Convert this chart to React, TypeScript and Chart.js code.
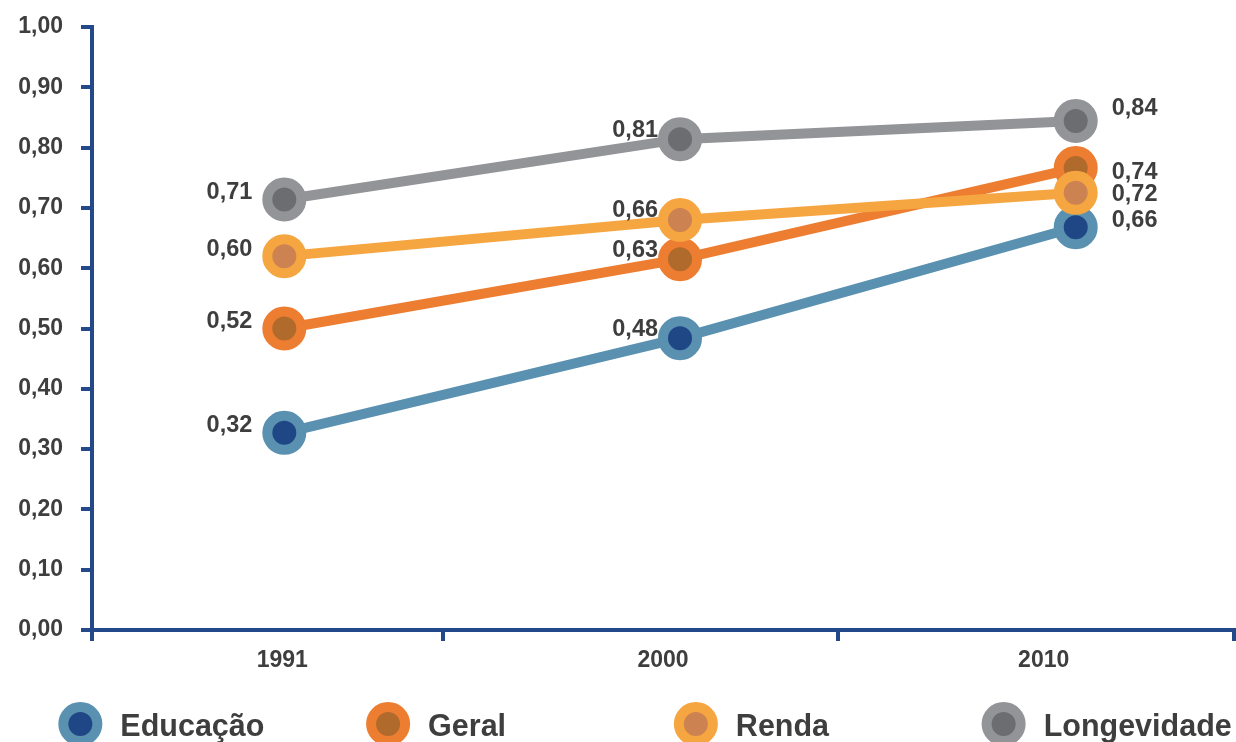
import React, { useEffect, useRef } from "react";
import { Chart, registerables } from "chart.js";

Chart.register(...registerables);

// ---- data ----
const years = ["1991", "2000", "2010"];
const yearIndex = [0, 1, 2];

const educacao = [0.327, 0.484, 0.668];
const geral = [0.5, 0.615, 0.766];
const renda = [0.62, 0.68, 0.725];
const longevidade = [0.714, 0.814, 0.844];

const educacaoLabels = [0.32, 0.48, 0.66];
const geralLabels = [0.52, 0.63, 0.74];
const rendaLabels = [0.6, 0.66, 0.72];
const longevidadeLabels = [0.71, 0.81, 0.84];

const yTickValues = [0, 0.1, 0.2, 0.3, 0.4, 0.5, 0.6, 0.7, 0.8, 0.9, 1.0];
const xTickMarks = [-0.486, 0.4, 1.4, 2.4];

// ---- styles ----
const AXIS = "#24498a";
const TEXT = "#3e3e3e";
const FONT = "'Liberation Sans', Arial, sans-serif";

const series = [
  { name: "Educação", values: educacao, labels: educacaoLabels, line: "#5a91b1", inner: "#1f4785", order: 3, endDy: -7 },
  { name: "Geral", values: geral, labels: geralLabels, line: "#ed7d31", inner: "#b06a2c", order: 2, endDy: 4 },
  { name: "Renda", values: renda, labels: rendaLabels, line: "#f6a641", inner: "#cd8351", order: 1, endDy: 2 },
  { name: "Longevidade", values: longevidade, labels: longevidadeLabels, line: "#939498", inner: "#6c6d71", order: 0, endDy: -13 },
];

const fmt = (v: number) => v.toFixed(2).replace(".", ",");

const dataLabelPlugin = {
  id: "dataLabels",
  afterDatasetsDraw(chart: any) {
    const ctx = chart.ctx;
    ctx.save();
    ctx.font = `bold 23.5px ${FONT}`;
    ctx.fillStyle = TEXT;
    ctx.textBaseline = "middle";
    chart.data.datasets.forEach((ds: any, di: number) => {
      const meta = chart.getDatasetMeta(di);
      meta.data.forEach((pt: any, i: number) => {
        const txt = fmt(ds.valueLabels[i]);
        if (i === 0) {
          ctx.textAlign = "right";
          ctx.fillText(txt, pt.x - 32, pt.y - 7);
        } else if (i === 1) {
          ctx.textAlign = "right";
          ctx.fillText(txt, pt.x - 22, pt.y - 9);
        } else {
          ctx.textAlign = "left";
          ctx.fillText(txt, pt.x + 36, pt.y + ds.endDy);
        }
      });
    });
    ctx.restore();
  },
};

const legendPlugin = {
  id: "customLegend",
  afterDraw(chart: any) {
    const ctx = chart.ctx;
    const w = chart.width;
    ctx.save();
    series.forEach((s, i) => {
      const cx = w * 0.065 + i * w * 0.249;
      const cy = 724;
      ctx.beginPath();
      ctx.arc(cx, cy, 17, 0, Math.PI * 2);
      ctx.fillStyle = s.inner;
      ctx.fill();
      ctx.lineWidth = 10;
      ctx.strokeStyle = s.line;
      ctx.stroke();
      ctx.font = `bold 30.5px ${FONT}`;
      ctx.fillStyle = TEXT;
      ctx.textAlign = "left";
      ctx.textBaseline = "alphabetic";
      ctx.fillText(s.name, cx + 40, 736);
    });
    ctx.restore();
  },
};

export default function App() {
  const ref = useRef<HTMLCanvasElement | null>(null);

  useEffect(() => {
    if (!ref.current) return;
    const chart = new Chart(ref.current, {
      type: "line",
      data: {
        datasets: series.map((s) => ({
          label: s.name,
          data: yearIndex.map((x, i) => ({ x, y: s.values[i] })),
          valueLabels: s.labels,
          endDy: s.endDy,
          order: s.order,
          borderColor: s.line,
          borderWidth: 10,
          pointRadius: 17,
          pointHoverRadius: 17,
          pointBorderWidth: 10,
          pointHoverBorderWidth: 10,
          pointBackgroundColor: s.inner,
          pointBorderColor: s.line,
          tension: 0,
          fill: false,
          clip: false,
          xAxisID: "x",
          yAxisID: "y",
        })) as any,
      },
      options: {
        animation: false,
        responsive: true,
        maintainAspectRatio: false,
        events: [],
        layout: { autoPadding: false, padding: { top: 27, left: 0, right: 2, bottom: 61 } },
        plugins: {
          legend: { display: false },
          tooltip: { enabled: false },
        },
        scales: {
          x: {
            type: "linear",
            position: "bottom",
            weight: 0,
            min: -0.486,
            max: 2.4,
            afterBuildTicks: (scale: any) => {
              scale.ticks = xTickMarks.map((v) => ({ value: v }));
            },
            afterFit: (scale: any) => {
              scale.height = 11;
              scale.paddingLeft = 0;
              scale.paddingRight = 0;
            },
            ticks: { display: false },
            grid: {
              display: true,
              drawOnChartArea: false,
              drawTicks: true,
              tickLength: 11,
              color: AXIS,
              lineWidth: 4,
            },
            border: { display: true, color: AXIS, width: 4 },
          },
          x2: {
            type: "category",
            position: "bottom",
            weight: 1,
            labels: years,
            offset: true,
            afterFit: (scale: any) => {
              scale.height = 40;
              scale.paddingLeft = 0;
              scale.paddingRight = 0;
            },
            grid: { display: false, drawTicks: false },
            border: { display: false },
            ticks: {
              padding: 6,
              color: TEXT,
              font: { family: FONT, size: 23, weight: "bold" },
              maxRotation: 0,
            },
          },
          y: {
            type: "linear",
            position: "left",
            min: 0,
            max: 1,
            afterBuildTicks: (scale: any) => {
              scale.ticks = yTickValues.map((v) => ({ value: v }));
            },
            afterFit: (scale: any) => {
              scale.width = 92;
              scale.paddingTop = 0;
              scale.paddingBottom = 0;
            },
            ticks: {
              padding: 18,
              color: TEXT,
              font: { family: FONT, size: 23, weight: "bold" },
              callback: (v: any) => fmt(Number(v)),
            },
            grid: {
              display: true,
              drawOnChartArea: false,
              drawTicks: true,
              tickLength: 11,
              color: AXIS,
              lineWidth: 4,
            },
            border: { display: true, color: AXIS, width: 4 },
          },
        },
      } as any,
      plugins: [dataLabelPlugin, legendPlugin],
    });
    return () => chart.destroy();
  }, []);

  return (
    <div style={{ position: "fixed", left: 0, top: 0, width: 1236, height: 742, background: "#fff" }}>
      <canvas ref={ref} />
    </div>
  );
}
